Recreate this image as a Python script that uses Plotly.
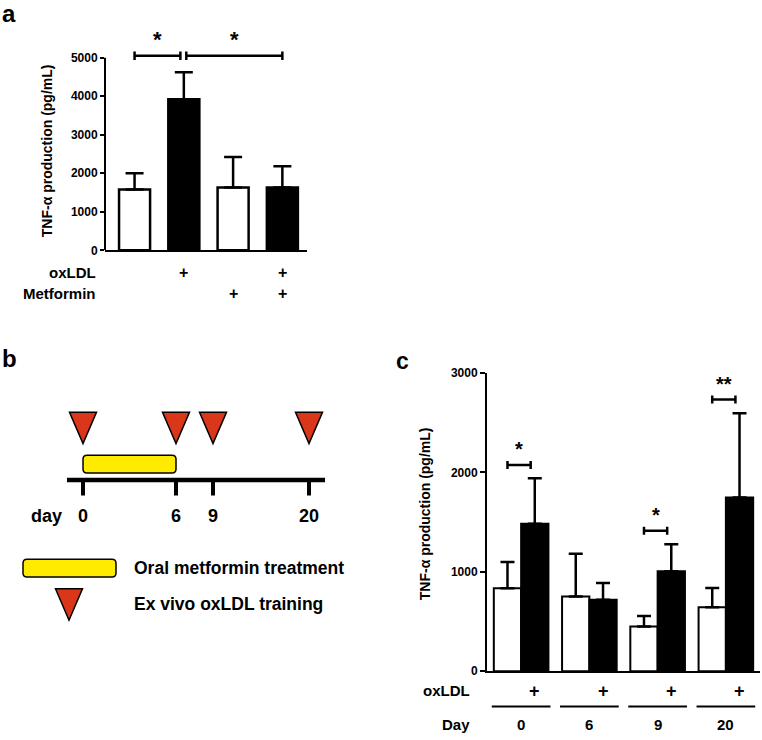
import plotly.graph_objects as go

FONT = "Liberation Sans, Arial, sans-serif"

# ---- panel a data
a_means = [1580, 3920, 1630, 1630]
a_err = [420, 700, 790, 550]
a_oxldl = [False, True, False, True]
a_metformin = [False, False, True, True]
a_colors = ["white", "black", "white", "black"]
a_sig = [(0, 1, "*"), (1, 3, "*")]
a_sig_level = 5050

# ---- panel c data
c_days = ["0", "6", "9", "20"]
c_ctrl = [833, 752, 449, 643]
c_ctrl_err = [265, 430, 106, 194]
c_ox = [1484, 719, 1005, 1747]
c_ox_err = [457, 168, 272, 847]
c_sig = ["*", "", "*", "**"]
c_sig_level = [2075, None, 1412, 2732]

# ---- panel b schematic
b_days = ["0", "6", "9", "20"]
b_pos = [83, 176, 213, 309]          # schematic (not to scale) positions
b_treatment = (0, 1)                 # metformin from day index 0 to 1
RED = "#d9361a"
YELLOW = "#ffeb00"


def bold(size):
    return dict(family=FONT, size=size, weight="bold", color="black")


def py(p):
    # pixel row -> paper fraction
    return 1 - p / 740


fig = go.Figure()

# panel a bars
fig.add_trace(go.Bar(
    x=list(range(4)), y=a_means, width=0.63,
    marker=dict(color=a_colors, line=dict(color="black", width=2.5)),
    error_y=dict(type="data", symmetric=False, array=a_err, arrayminus=[0] * 4,
                 color="black", thickness=2.5, width=9),
    xaxis="x", yaxis="y",
))

# panel c bars
fig.add_trace(go.Bar(
    x=list(range(4)), y=c_ctrl, name="control",
    marker=dict(color="white", line=dict(color="black", width=2)),
    error_y=dict(type="data", symmetric=False, array=c_ctrl_err, arrayminus=[0] * 4,
                 color="black", thickness=2.5, width=7),
    xaxis="x2", yaxis="y2",
))
fig.add_trace(go.Bar(
    x=list(range(4)), y=c_ox, name="oxLDL",
    marker=dict(color="black", line=dict(color="black", width=2)),
    error_y=dict(type="data", symmetric=False, array=c_ox_err, arrayminus=[0] * 4,
                 color="black", thickness=2.5, width=7),
    xaxis="x2", yaxis="y2",
))

shapes = []
ann = []


def text(x, y, s, size, xref="paper", yref="paper", xanchor="center", yanchor="middle", **kw):
    ann.append(dict(x=x, y=y, xref=xref, yref=yref, text=s, showarrow=False,
                    xanchor=xanchor, yanchor=yanchor, font=bold(size), **kw))


# y axis line for panel a (stops at 5000)
shapes.append(dict(type="line", xref="x domain", yref="y", x0=0, x1=0, y0=0, y1=5000,
                   line=dict(color="black", width=2)))

# significance brackets panel a
for i, j, s in a_sig:
    x0 = i + (0.05 if a_sig[0][1] == i else 0)
    x1 = j - (0.07 if any(k[0] == j for k in a_sig) else 0)
    shapes.append(dict(type="line", xref="x", yref="y", x0=x0, x1=x1, y0=a_sig_level, y1=a_sig_level,
                       line=dict(color="black", width=2.5)))
    for xx in (x0, x1):
        shapes.append(dict(type="line", xref="x", yref="y", x0=xx, x1=xx,
                           y0=a_sig_level - 110, y1=a_sig_level + 110,
                           line=dict(color="black", width=2.5)))
    text((x0 + x1) / 2, a_sig_level + 50, s, 22, xref="x", yref="y", yanchor="bottom")

# row labels panel a
text(98 / 762, py(271), "oxLDL", 15, xanchor="right")
text(98 / 762, py(292), "Metformin", 15, xanchor="right")
for i in range(4):
    if a_oxldl[i]:
        text(i, py(271), "+", 16, xref="x")
    if a_metformin[i]:
        text(i, py(292), "+", 16, xref="x")

text(47 / 762, py(147), "TNF-α production (pg/mL)", 14, textangle=-90)

# significance brackets panel c
for g, (s, lev) in enumerate(zip(c_sig, c_sig_level)):
    if not s:
        continue
    x0, x1 = g - 0.2, g + 0.14
    shapes.append(dict(type="line", xref="x2", yref="y2", x0=x0, x1=x1, y0=lev, y1=lev,
                       line=dict(color="black", width=2.5)))
    for xx in (x0, x1):
        shapes.append(dict(type="line", xref="x2", yref="y2", x0=xx, x1=xx, y0=lev - 40, y1=lev + 40,
                           line=dict(color="black", width=2.5)))
    text((x0 + x1) / 2, lev + 30, s, 20, xref="x2", yref="y2", yanchor="bottom")

# row labels panel c
text(472 / 762, py(697), "oxLDL", 15, xanchor="right")
text(472 / 762, py(731), "Day", 15, xanchor="right")
for g, d in enumerate(c_days):
    text(g + 0.2, py(697), "+", 18, xref="x2")
    text(g, py(731), d, 15, xref="x2")
    shapes.append(dict(type="line", xref="x2", yref="paper", x0=g - 0.43, x1=g + 0.43,
                       y0=py(713), y1=py(713), line=dict(color="black", width=2)))

text(425 / 762, py(517), "TNF-α production (pg/mL)", 14, textangle=-90)


# panel b schematic
def rrect(x0, y0, x1, y1, r):
    return (f"M{x0 + r},{y0} L{x1 - r},{y0} Q{x1},{y0} {x1},{y0 + r} L{x1},{y1 - r} "
            f"Q{x1},{y1} {x1 - r},{y1} L{x0 + r},{y1} Q{x0},{y1} {x0},{y1 - r} "
            f"L{x0},{y0 + r} Q{x0},{y0} {x0 + r},{y0} Z")


def tri(cx, top, w, h):
    return f"M{cx - w / 2},{top} L{cx + w / 2},{top} L{cx},{top + h} Z"


shapes.append(dict(type="line", xref="x3", yref="y3", x0=67, x1=325, y0=482, y1=482,
                   line=dict(color="black", width=4.5)))
for p, d in zip(b_pos, b_days):
    shapes.append(dict(type="line", xref="x3", yref="y3", x0=p, x1=p, y0=482, y1=498,
                       line=dict(color="black", width=4)))
    shapes.append(dict(type="path", xref="x3", yref="y3", path=tri(p, 413, 27, 32),
                       fillcolor=RED, line=dict(color="black", width=1.5)))
    text(p, 519, d, 18, xref="x3", yref="y3")
text(46, 519, "day", 18, xref="x3", yref="y3")
shapes.append(dict(type="path", xref="x3", yref="y3",
                   path=rrect(b_pos[b_treatment[0]], 457, b_pos[b_treatment[1]], 475, 4),
                   fillcolor=YELLOW, line=dict(color="black", width=1.5)))

# legend of panel b
shapes.append(dict(type="path", xref="x3", yref="y3", path=rrect(23, 563, 116, 581, 4),
                   fillcolor=YELLOW, line=dict(color="black", width=1.5)))
shapes.append(dict(type="path", xref="x3", yref="y3", path=tri(69, 593, 27, 32),
                   fillcolor=RED, line=dict(color="black", width=1.5)))
text(132, 572, "Oral metformin treatment", 17.5, xref="x3", yref="y3", xanchor="left")
text(132, 609, "Ex vivo oxLDL training", 17.5, xref="x3", yref="y3", xanchor="left")

# panel letters
text(0, 1, "a", 24, xanchor="left", yanchor="top", yshift=9)
text(0, py(342), "b", 24, xanchor="left", yanchor="top")
text(394 / 762, py(346), "c", 23, xanchor="left", yanchor="top")

fig.update_layout(
    width=762, height=740,
    margin=dict(l=0, r=0, t=0, b=0),
    paper_bgcolor="white", plot_bgcolor="white",
    font=dict(family=FONT, color="black"),
    showlegend=False,
    barmode="group", bargap=0.2, bargroupgap=0,
    xaxis=dict(domain=[105 / 762, 307 / 762], range=[-0.6, 3.5], showline=True, linewidth=2,
               linecolor="black", showticklabels=False, ticks="", showgrid=False, zeroline=False,
               anchor="y"),
    yaxis=dict(domain=[py(248), py(36)], range=[0, 5400], tickvals=[0, 1000, 2000, 3000, 4000, 5000],
               showline=False, ticks="outside", ticklen=4, tickwidth=2, tickcolor="black",
               tickfont=bold(12), showgrid=False, zeroline=False, anchor="x"),
    xaxis2=dict(domain=[487 / 762, 760 / 762], range=[-0.5, 3.5], showline=True, linewidth=2,
                linecolor="black", showticklabels=False, ticks="", showgrid=False, zeroline=False,
                anchor="y2"),
    yaxis2=dict(domain=[py(677), py(373)], range=[0, 3000], tickvals=[0, 1000, 2000, 3000],
                showline=True, linewidth=2, linecolor="black", ticks="outside", ticklen=5, tickwidth=2,
                tickcolor="black", tickfont=bold(12), showgrid=False, zeroline=False, anchor="x2"),
    xaxis3=dict(domain=[0, 0.5], range=[0, 381], visible=False, anchor="y3"),
    yaxis3=dict(domain=[py(650), py(330)], range=[650, 330], visible=False, anchor="x3"),
    shapes=shapes,
    annotations=ann,
)

# drop the default 8px page margin so the figure sits at the window's corner
fig.write_html("out.html", config={"displayModeBar": False},
               post_script="document.body.style.margin='0';")
